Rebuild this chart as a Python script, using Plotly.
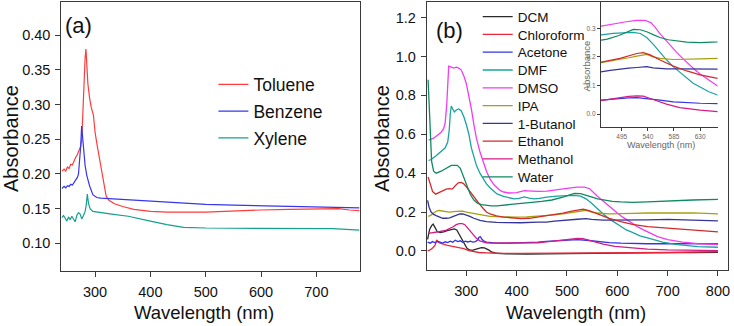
import plotly.graph_objects as go

# ---------------- Panel (a) data ----------------
tol_wl = [240, 244, 247, 250, 253, 256, 259, 262, 265, 268, 271, 274, 276, 278, 280, 282, 283.5, 285, 287, 290, 293, 297,
          300, 304, 308, 312, 316, 320, 325, 335, 350, 370, 400, 430, 500, 550, 600, 650, 700, 740, 760, 778]
tol_abs = [0.204, 0.207, 0.204, 0.210, 0.208, 0.214, 0.213, 0.219, 0.224, 0.228, 0.234, 0.240, 0.250, 0.300, 0.340, 0.368, 0.380,
           0.360, 0.330, 0.310, 0.296, 0.285, 0.260, 0.240, 0.222, 0.200, 0.183, 0.168, 0.162, 0.157, 0.153, 0.149, 0.146,
           0.145, 0.145, 0.147, 0.148, 0.149, 0.150, 0.150, 0.148, 0.147]

ben_wl = [240, 244, 247, 250, 253, 256, 259, 262, 265, 268, 270, 272, 274, 275.7, 277, 279, 282, 285, 290, 296, 303, 310,
          330, 360, 400, 450, 500, 550, 600, 650, 700, 740, 778]
ben_abs = [0.179, 0.182, 0.180, 0.183, 0.182, 0.185, 0.184, 0.188, 0.190, 0.195, 0.200, 0.215, 0.240, 0.269, 0.255, 0.232,
           0.212, 0.198, 0.183, 0.170, 0.166, 0.165, 0.164, 0.162, 0.160, 0.158, 0.156, 0.155, 0.154, 0.153, 0.152, 0.152, 0.151]

xyl_wl = [240, 243, 246, 249, 252, 255, 258, 261, 264, 267, 270, 273, 276, 279, 282, 284, 286, 288, 291, 296, 310, 330,
          360, 380, 400, 430, 460, 500, 600, 700, 730, 778]
xyl_abs = [0.137, 0.140, 0.136, 0.132, 0.138, 0.134, 0.139, 0.135, 0.131, 0.140, 0.144, 0.142, 0.135, 0.140, 0.146, 0.155,
           0.171, 0.158, 0.150, 0.146, 0.144, 0.142, 0.139, 0.135, 0.132, 0.127, 0.123, 0.122, 0.122, 0.122, 0.121, 0.119]

# ---------------- Panel (b) data ----------------
dcm_wl = [223, 227, 231, 234, 238, 242, 248, 255, 262, 270, 276, 281, 286, 291, 296, 301, 306, 312, 318, 324, 330, 336,
          340, 345, 350, 360, 380, 420, 500, 550, 600, 650, 700, 750, 800]
dcm_abs = [0.060, 0.110, 0.130, 0.138, 0.120, 0.100, 0.095, 0.098, 0.105, 0.110, 0.113, 0.108, 0.085, 0.060, 0.035, 0.015,
           0.005, 0.003, 0.008, 0.014, 0.017, 0.016, 0.012, 0.004, -0.005, -0.012, -0.015, -0.016, -0.014, -0.012, -0.011,
           -0.010, -0.009, -0.008, -0.007]

chl_wl = [223, 228, 233, 238, 241, 244, 248, 253, 261, 270, 280, 288, 295, 305, 315, 325, 341, 360, 408, 500, 600, 700, 800]
chl_abs = [0.000, 0.005, 0.015, 0.030, 0.057, 0.045, 0.040, 0.035, 0.030, 0.025, 0.020, 0.017, 0.012, 0.002, -0.005,
           -0.008, -0.010, -0.012, -0.013, -0.012, -0.010, -0.008, -0.004]

ace_wl = [223, 228, 233, 238, 243, 248, 253, 258, 263, 268, 273, 278, 283, 288, 293, 298, 303, 308, 313, 318, 322, 325,
          328, 331, 335, 340, 348, 360, 380, 408, 442, 459, 475, 492, 507, 521, 538, 549, 561, 584, 607, 630, 660, 700,
          750, 800]
ace_abs = [0.045, 0.040, 0.048, 0.042, 0.050, 0.044, 0.040, 0.047, 0.043, 0.050, 0.045, 0.055, 0.048, 0.052, 0.044, 0.050,
           0.046, 0.050, 0.045, 0.048, 0.055, 0.070, 0.073, 0.060, 0.050, 0.045, 0.042, 0.040, 0.040, 0.041, 0.045, 0.049,
           0.052, 0.055, 0.057, 0.058, 0.055, 0.052, 0.049, 0.043, 0.040, 0.038, 0.037, 0.037, 0.037, 0.038]

dmf_wl = [225, 230, 240, 250, 258, 263, 266, 268, 270, 273, 276, 280, 285, 290, 295, 300, 305, 310, 315, 320, 327, 334,
          340, 347, 355, 361, 374, 385, 395, 405, 415, 425, 435, 445, 460, 480, 500, 515, 527, 538, 549, 560, 572, 584,
          596, 607, 618, 630, 645, 660, 690, 720, 760, 800]
dmf_abs = [0.465, 0.470, 0.490, 0.510, 0.530, 0.560, 0.620, 0.700, 0.745, 0.730, 0.715, 0.725, 0.730, 0.720, 0.690, 0.650,
           0.600, 0.530, 0.480, 0.440, 0.400, 0.370, 0.345, 0.325, 0.305, 0.293, 0.280, 0.272, 0.268, 0.270, 0.278, 0.272,
           0.268, 0.270, 0.277, 0.282, 0.285, 0.286, 0.282, 0.268, 0.245, 0.218, 0.190, 0.165, 0.145, 0.125, 0.108, 0.095,
           0.078, 0.067, 0.045, 0.032, 0.022, 0.019]

dmso_wl = [225, 230, 235, 240, 245, 250, 255, 258, 261, 263, 265, 270, 275, 280, 285, 290, 295, 300, 305, 310, 315, 320,
           327, 334, 340, 347, 355, 361, 368, 374, 385, 400, 415, 430, 445, 460, 480, 500, 520, 535, 545, 552, 560, 570,
           580, 590, 600, 610, 620, 630, 640, 650, 660, 680, 700, 730, 760, 800]
dmso_abs = [0.570, 0.575, 0.580, 0.590, 0.600, 0.610, 0.630, 0.660, 0.750, 0.900, 0.950, 0.945, 0.940, 0.945, 0.940, 0.930,
            0.900, 0.860, 0.800, 0.730, 0.650, 0.580, 0.510, 0.450, 0.410, 0.370, 0.340, 0.325, 0.310, 0.303, 0.298, 0.300,
            0.310, 0.308, 0.306, 0.308, 0.316, 0.322, 0.328, 0.328, 0.320, 0.305, 0.283, 0.260, 0.237, 0.215, 0.195, 0.175,
            0.157, 0.140, 0.125, 0.111, 0.098, 0.074, 0.058, 0.045, 0.037, 0.033]

ipa_wl = [224, 229, 235, 241, 246, 255, 266, 280, 293, 300, 310, 320, 335, 347, 360, 374, 400, 420, 442, 459, 475, 492,
          507, 521, 538, 549, 561, 584, 607, 630, 660, 700, 750, 800]
ipa_abs = [0.178, 0.183, 0.195, 0.205, 0.208, 0.205, 0.200, 0.203, 0.205, 0.200, 0.195, 0.190, 0.184, 0.178, 0.176, 0.174,
           0.174, 0.175, 0.178, 0.180, 0.185, 0.191, 0.197, 0.203, 0.209, 0.200, 0.195, 0.191, 0.191, 0.193, 0.195, 0.197,
           0.196, 0.191]

but_wl = [223, 226, 230, 235, 240, 246, 253, 260, 267, 273, 280, 287, 293, 300, 307, 315, 327, 340, 347, 360, 380, 408,
          442, 459, 475, 492, 507, 521, 538, 549, 572, 595, 630, 660, 700, 750, 800]
but_abs = [0.260, 0.225, 0.200, 0.188, 0.182, 0.175, 0.168, 0.168, 0.170, 0.176, 0.185, 0.190, 0.190, 0.185, 0.178, 0.168,
           0.157, 0.151, 0.149, 0.147, 0.146, 0.145, 0.148, 0.148, 0.153, 0.158, 0.161, 0.163, 0.166, 0.162, 0.158, 0.158,
           0.159, 0.160, 0.162, 0.160, 0.155]

eth_wl = [224, 228, 233, 239, 246, 253, 260, 266, 272, 278, 284, 290, 295, 300, 307, 314, 320, 327, 334, 340, 347, 360,
          374, 390, 408, 425, 442, 459, 475, 492, 507, 521, 532, 544, 561, 584, 607, 630, 660, 700, 750, 800]
eth_abs = [0.380, 0.340, 0.305, 0.292, 0.300, 0.310, 0.318, 0.320, 0.318, 0.335, 0.350, 0.352, 0.345, 0.330, 0.305, 0.280,
           0.260, 0.238, 0.217, 0.200, 0.190, 0.180, 0.174, 0.170, 0.166, 0.168, 0.174, 0.180, 0.188, 0.195, 0.204, 0.212,
           0.215, 0.207, 0.189, 0.168, 0.151, 0.137, 0.125, 0.118, 0.108, 0.098]

met_wl = [224, 230, 239, 248, 259, 266, 273, 280, 286, 292, 297, 302, 307, 314, 320, 327, 334, 340, 347, 360, 374, 408,
          442, 459, 475, 492, 507, 521, 532, 549, 561, 572, 595, 630, 660, 700, 750, 800]
met_abs = [0.090, 0.092, 0.094, 0.100, 0.106, 0.113, 0.123, 0.135, 0.140, 0.140, 0.135, 0.120, 0.105, 0.085, 0.065, 0.052,
           0.045, 0.042, 0.040, 0.040, 0.040, 0.040, 0.042, 0.047, 0.052, 0.058, 0.062, 0.064, 0.063, 0.051, 0.043, 0.035,
           0.023, 0.014, 0.009, 0.005, 0.003, 0.002]

wat_wl = [224, 226, 228, 231, 235, 240, 250, 260, 270, 276, 282, 288, 293, 298, 303, 308, 315, 322, 330, 340, 350, 361,
          375, 390, 410, 430, 450, 470, 490, 505, 515, 527, 538, 550, 561, 575, 590, 607, 630, 660, 700, 750, 800]
wat_abs = [0.880, 0.760, 0.600, 0.460, 0.410, 0.400, 0.410, 0.425, 0.440, 0.440, 0.440, 0.425, 0.390, 0.350, 0.315, 0.290,
           0.262, 0.246, 0.238, 0.234, 0.232, 0.232, 0.235, 0.240, 0.245, 0.250, 0.255, 0.262, 0.275, 0.288, 0.296, 0.295,
           0.288, 0.277, 0.268, 0.260, 0.255, 0.252, 0.250, 0.252, 0.258, 0.262, 0.265]

# tick values / labels
a_xticks = [300, 400, 500, 600, 700]
a_yticks = [0.10, 0.15, 0.20, 0.25, 0.30, 0.35, 0.40]
b_xticks = [300, 400, 500, 600, 700, 800]
b_yticks = [0.0, 0.2, 0.4, 0.6, 0.8, 1.0, 1.2]
in_xticks = [495, 540, 585, 630]
in_yticks = [0.0, 0.1, 0.2, 0.3]

FONT = "Arial, 'Liberation Sans', sans-serif"
W, H = 734, 326


def px(x):
    return x / W


def py(y):
    return 1 - y / H


fig = go.Figure()

series_a = [
    ("Toluene", tol_wl, tol_abs, "#ff3b3b"),
    ("Benzene", ben_wl, ben_abs, "#3636f0"),
    ("Xylene", xyl_wl, xyl_abs, "#14a08c"),
]
for name, x, y, c in series_a:
    fig.add_trace(go.Scatter(x=x, y=y, name=name, mode="lines", line=dict(color=c, width=1.2),
                             xaxis="x", yaxis="y", legend="legend", legendgroup=name))

series_b = [
    ("DCM", dcm_wl, dcm_abs, "#2a2a2a"),
    ("Chloroform", chl_wl, chl_abs, "#e8283a"),
    ("Acetone", ace_wl, ace_abs, "#3434e8"),
    ("DMF", dmf_wl, dmf_abs, "#1aa3a0"),
    ("DMSO", dmso_wl, dmso_abs, "#f23cf2"),
    ("IPA", ipa_wl, ipa_abs, "#a5a010"),
    ("1-Butanol", but_wl, but_abs, "#34349a"),
    ("Ethanol", eth_wl, eth_abs, "#d42a2a"),
    ("Methanol", met_wl, met_abs, "#d41c86"),
    ("Water", wat_wl, wat_abs, "#0e8a5e"),
]
legend_layout = {}
for i, (name, x, y, c) in enumerate(series_b):
    lg = "legend%d" % (i + 2)
    fig.add_trace(go.Scatter(x=x, y=y, name=name, mode="lines",
                             line=dict(color=c, width=1.3), xaxis="x2", yaxis="y2", legend=lg))
    centre = 18.3 + 17.8 * i
    legend_layout[lg] = dict(x=px(479), y=py(centre - 17), xanchor="left", yanchor="top",
                             bgcolor="rgba(0,0,0,0)", font=dict(family=FONT, size=13.5, color="#111"),
                             itemwidth=30)

# inset (same data, zoomed)
for name, x, y, c in series_b:
    if name in ("DCM", "Chloroform"):
        continue
    fig.add_trace(go.Scatter(x=x, y=y, name=name, mode="lines", line=dict(color=c, width=1.2),
                             xaxis="x3", yaxis="y3", showlegend=False))

axis_common = dict(showgrid=False, zeroline=False, showline=True, linecolor="#3a3a3a", linewidth=1,
                   ticks="outside", ticklen=5, tickcolor="#3a3a3a", tickwidth=1,
                   tickfont=dict(family=FONT, size=14.5, color="#111"))

fig.update_layout(
    width=W, height=H,
    margin=dict(l=0, r=0, t=0, b=0),
    paper_bgcolor="white", plot_bgcolor="white",
    xaxis=dict(domain=[px(61.5), px(360.5)], range=[239, 778], anchor="y", mirror=True,
               tickvals=a_xticks, ticklabelstandoff=3, **axis_common),
    yaxis=dict(domain=[py(271), py(2)], range=[0.06, 0.448], anchor="x", mirror=True,
               tickvals=a_yticks, tickformat=".2f", ticklabelstandoff=2, **axis_common),
    xaxis2=dict(domain=[px(428), px(730)], range=[221.5, 820], anchor="y2", mirror=True,
                tickvals=b_xticks, ticklabelstandoff=3, **axis_common),
    yaxis2=dict(domain=[py(270), py(2)], range=[-0.098, 1.28], anchor="x2", mirror=True,
                tickvals=b_yticks, tickformat=".1f", ticklabelstandoff=2, **axis_common),
    xaxis3=dict(domain=[px(602.5), px(719.5)], range=[459, 660], anchor="y3", showgrid=False, zeroline=False,
                showline=True, linecolor="#3a3a3a", linewidth=1, ticks="outside", ticklen=3, tickcolor="#3a3a3a",
                tickvals=in_xticks, tickfont=dict(family=FONT, size=6.5, color="#666")),
    yaxis3=dict(domain=[py(127), py(2)], range=[-0.045, 0.392], anchor="x3", showgrid=False, zeroline=False,
                showline=True, linecolor="#3a3a3a", linewidth=1, ticks="outside", ticklen=3, tickcolor="#3a3a3a",
                tickvals=in_yticks, tickformat=".1f", tickfont=dict(family=FONT, size=6.5, color="#666")),
    legend=dict(x=px(214), y=py(66.5), xanchor="left", yanchor="top", bgcolor="rgba(0,0,0,0)",
                font=dict(family=FONT, size=17.5, color="#111"), tracegroupgap=1, itemwidth=30),
    showlegend=True,
    **legend_layout,
)

ann = [
    dict(text="Absorbance", x=px(11), y=py(138), textangle=-90, font=dict(size=20)),
    dict(text="Wavelength (nm)", x=px(205), y=py(312), font=dict(size=18.5)),
    dict(text="(a)", x=px(79), y=py(26), font=dict(size=22)),
    dict(text="Absorbance", x=px(383), y=py(138), textangle=-90, font=dict(size=20)),
    dict(text="Wavelength (nm)", x=px(578), y=py(312), font=dict(size=18.5)),
    dict(text="(b)", x=px(451), y=py(30), font=dict(size=22)),
    dict(text="Absorbance", x=px(589), y=py(66), textangle=-90, font=dict(size=9.5, color="#666")),
    dict(text="Wavelength (nm)", x=px(663), y=py(145), font=dict(size=9, color="#666")),
]
for a in ann:
    f = dict(family=FONT, color="#111")
    f.update(a.pop("font"))
    fig.add_annotation(xref="paper", yref="paper", showarrow=False, xanchor="center", yanchor="middle",
                       font=f, **a)

fig.write_html("out.html", config={"displayModeBar": False},
               post_script="document.body.style.margin='0';document.body.style.padding='0';")
